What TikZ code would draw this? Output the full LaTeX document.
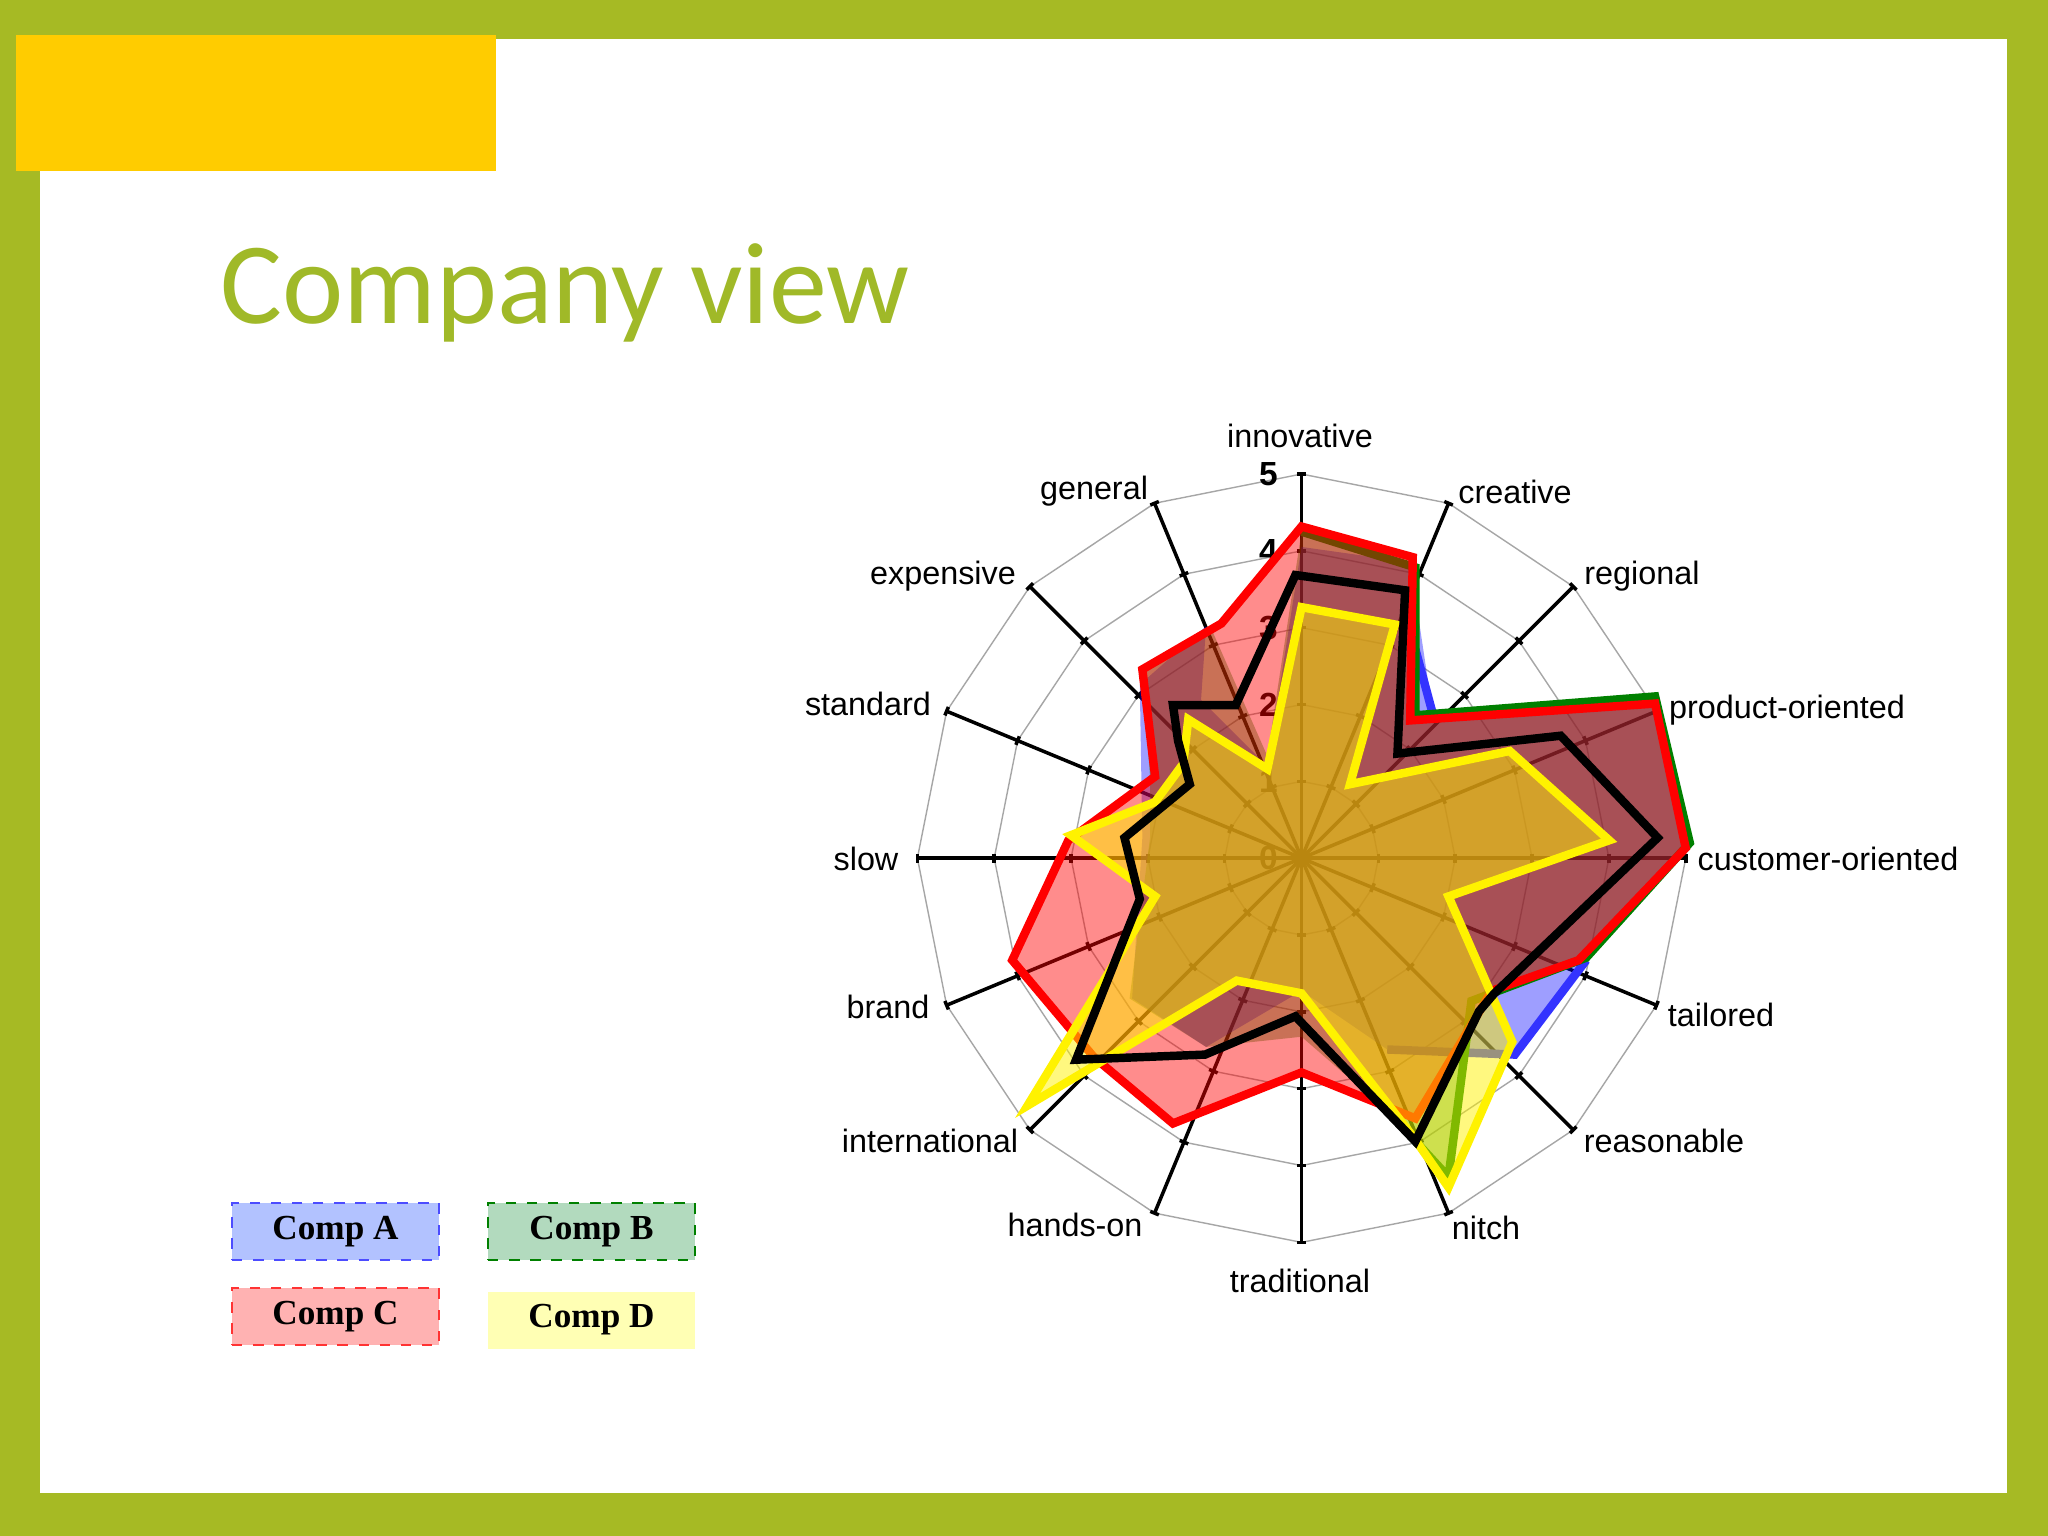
\documentclass[tikz,border=0pt]{standalone}
\usepackage{fontspec}
\usetikzlibrary{calc}
\setmainfont{Liberation Sans}
\newfontfamily\titlefont{Carlito}
\newfontfamily\legfont{Liberation Serif}
\definecolor{frame}{RGB}{166,186,36}
\definecolor{titleg}{RGB}{160,185,40}
\definecolor{banner}{RGB}{255,204,0}
\begin{document}
\begin{tikzpicture}[x=0.01cm,y=-0.01cm,
  axlab/.style={font=\fontsize{9.2}{11}\selectfont},
  legbox/.style={minimum width=2.07cm,minimum height=0.57cm,font=\legfont\bfseries\fontsize{10}{12}\selectfont,inner sep=0pt},
  serline/.style={line width=2.4pt,line join=miter}]
\fill[frame] (0,0) rectangle (2048,1536);
\fill[white] (40,39) rectangle (2007,1493);
\fill[banner] (16,35) rectangle (496,171);
\node[anchor=west,text=titleg,font=\titlefont\fontsize{33}{38}\selectfont] (title) at (208,293) {Company view};
% legend
\node[legbox,fill={rgb,255:red,178;green,194;blue,255},draw=blue!70,dashed] (la) at (335.5,1231.5) {Comp A};
\node[legbox,fill={rgb,255:red,178;green,218;blue,190},draw=green!50!black,dashed] (lb) at (591.5,1231.5) {Comp B};
\node[legbox,fill={rgb,255:red,255;green,178;blue,178},draw=red!80,dashed] (lc) at (335.5,1316.5) {Comp C};
\node[legbox,fill={rgb,255:red,255;green,255;blue,180}] (ld) at (591.5,1320) {Comp D};
% chart
\begin{scope}[shift={(900,450)},scale=0.5102]
\coordinate (c) at (787,800);
\foreach \k in {1,...,5}{
  \draw[gray!70,line width=0.4pt] ($(c)+(90:{\k*150.6})$) \foreach \i in {1,...,15}{ -- ($(c)+({90-22.5*\i}:{\k*150.6})$)} -- cycle;
}
\foreach \i in {0,...,15}{
  \draw[black,line width=1pt] (c) -- ($(c)+({90-22.5*\i}:753)$);
  \foreach \k in {1,...,5}{
    \draw[black,line width=1pt] ($(c)+({90-22.5*\i}:{\k*150.6})+({-22.5*\i}:9)$) -- ($(c)+({90-22.5*\i}:{\k*150.6})+({180-22.5*\i}:9)$);
  }
}
\foreach \k in {0,...,5}{
  \node[font=\bfseries\fontsize{9.5}{11}\selectfont] (n\k) at (722,{800-\k*150.6}) {\k};
}
% Comp A
\fill[blue,fill opacity=0.38] (787,190)--(1000,220)--(1045,520)--(1470,490)--(1540,780)--(1345,1000)--(1205,1185)--(955,1175)--(787,1060)--(600,1170)--(455,1075)--(475,760)--(470,460)--(600,345)--(590,490)--(720,620)--cycle;
\draw[blue!80,serline] (1345,1000)--(1205,1185)--(955,1175);
\draw[blue!80,serline] (1010,390)--(1045,520)--(1000,525);
% Comp B
\fill[green!50!black,fill opacity=0.38] (787,160)--(1010,230)--(1010,520)--(1480,483)--(1548,770)--(1345,995)--(1120,1080)--(1075,1425)--(960,1300)--(787,1150)--(600,1170)--(450,1075)--(490,760)--(490,640)--(475,440)--(610,350)--(720,600)--cycle;
\draw[green!50!black,serline] (787,160)--(1010,230)--(1010,520)--(1480,483)--(1548,770)--(1345,995)--(1120,1080)--(1075,1425)--(960,1300);
% Comp C
\fill[red,fill opacity=0.45] (787,150)--(1005,210)--(1000,530)--(1480,497)--(1540,780)--(1330,1000)--(1160,1060)--(1010,1310)--(787,1220)--(535,1320)--(380,1190)--(220,1000)--(330,765)--(500,640)--(475,430)--(630,340)--cycle;
\draw[red,serline] (787,150)--(1005,210)--(1000,530)--(1480,497)--(1540,780)--(1330,1000)--(1160,1060)--(1010,1310)--(787,1220)--(535,1320)--(380,1190)--(220,1000)--(330,765)--(500,640)--(475,430)--(630,340)--cycle;
% Comp D
\fill[yellow,fill opacity=0.5] (787,308)--(970,342)--(882,655)--(1195,590)--(1390,765)--(1075,875)--(1200,1160)--(1075,1445)--(1005,1345)--(787,1065)--(660,1040)--(250,1285)--(500,875)--(335,755)--(500,690)--(555,615)--(565,528)--(720,625)--cycle;
\draw[yellow,serline] (787,308)--(970,342)--(882,655)--(1195,590)--(1390,765)--(1075,875)--(1200,1160)--(1075,1445)--(1005,1345)--(787,1065)--(660,1040)--(250,1285)--(500,875)--(335,755)--(500,690)--(555,615)--(565,528)--(720,625)--cycle;
% black
\draw[black,serline] (775,245)--(990,275)--(975,595)--(1295,560)--(1485,760)--(1165,1065)--(1135,1100)--(1010,1355)--(775,1110)--(598,1185)--(345,1195)--(470,880)--(440,760)--(568,655)--(545,570)--(535,500)--(658,500)--cycle;
\end{scope}
% axis labels
\node[axlab] (l1) at (1300,436) {innovative};
\node[axlab] (l2) at (1515,492) {creative};
\node[axlab] (l3) at (1642,576) {regional};
\node[axlab] (l4) at (1787,710) {product-oriented};
\node[axlab] (l5) at (1828,859) {customer-oriented};
\node[axlab] (l6) at (1721,1015) {tailored};
\node[axlab] (l7) at (1664,1141) {reasonable};
\node[axlab] (l8) at (1486,1228) {nitch};
\node[axlab] (l9) at (1300,1281) {traditional};
\node[axlab] (l10) at (1075,1225) {hands-on};
\node[axlab] (l11) at (930,1141) {international};
\node[axlab] (l12) at (888,1007) {brand};
\node[axlab] (l13) at (866,859) {slow};
\node[axlab] (l14) at (868,704) {standard};
\node[axlab] (l15) at (943,576) {expensive};
\node[axlab] (l16) at (1094,491) {general};
\end{tikzpicture}
\end{document}
